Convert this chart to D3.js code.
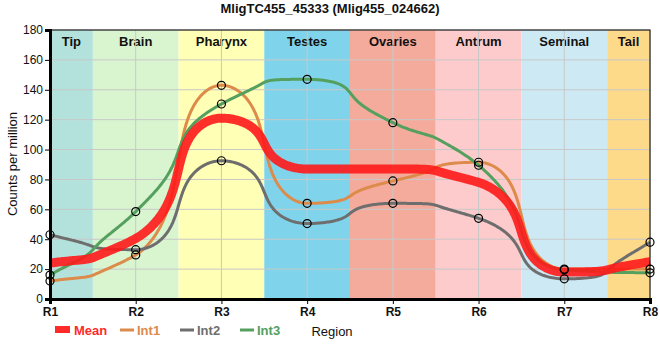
<!DOCTYPE html>
<html><head><meta charset="utf-8">
<script src="https://cdn.jsdelivr.net/npm/d3@7"></script>
<style>body{margin:0;background:#fff;font-family:"Liberation Sans",Arial,sans-serif;}</style>
</head><body><svg id="c" width="660" height="360"></svg>
<script>
const categories = ["R1","R2","R3","R4","R5","R6","R7","R8"];
const regions = ["Tip","Brain","Pharynx","Testes","Ovaries","Antrum","Seminal","Tail"];
const regionColors = ["#b3e2dd","#d8f5d0","#ffffb5","#7fd4eb","#f4ab9c","#fdcbcb","#cdeaf4","#fdd98a"];
const mean = [24, 40.5, 121, 87, 87, 78, 18, 25];
const int1 = [12, 29.5, 143, 64, 79, 91.5, 20, 20];
const int2 = [43, 33, 92.5, 50.5, 64, 54, 13.5, 38];
const int3 = [16, 58.5, 130.5, 147, 118, 89.5, 19.5, 17.5];
const yTicks = [0,20,40,60,80,100,120,140,160,180];

const svg = d3.select("#c");
const L=50,R=650,T=30,B=299;
const x = d3.scaleLinear().domain([0,categories.length-1]).range([L,R]);
const y = d3.scaleLinear().domain([0,180]).range([B,T]);

// bands
regions.forEach((r,i)=>{
  const x0 = x(Math.max(0,i-0.5)), x1 = x(Math.min(categories.length-1,i+0.5));
  svg.append("rect").attr("x",x0).attr("y",T).attr("width",x1-x0).attr("height",B-T).attr("fill",regionColors[i]);
  svg.append("text").attr("x",(x0+x1)/2).attr("y",T+16).attr("text-anchor","middle")
    .attr("font-size",13).attr("font-weight","bold").attr("fill","#111").text(r);
});
// grid
const g = svg.append("g");
yTicks.forEach(t=>g.append("line").attr("x1",L).attr("x2",R).attr("y1",y(t)).attr("y2",y(t)).attr("stroke","#c8c8c8").attr("stroke-width",1));
categories.forEach((c,i)=>g.append("line").attr("x1",x(i)).attr("x2",x(i)).attr("y1",T).attr("y2",B).attr("stroke","#c8c8c8").attr("stroke-width",1));

// smooth curve: monotone Hermite in index space, with spacing stretched around each region centre
const A = 0.55;
const warp = u => u + A*Math.sin(2*Math.PI*u)/(2*Math.PI);
function tangents(v){
  const n=v.length, m=new Array(n).fill(0);
  for(let i=1;i<n-1;i++){
    const s0=v[i]-v[i-1], s1=v[i+1]-v[i], p=(s0+s1)/2;
    m[i]=(Math.sign(s0)+Math.sign(s1))*Math.min(Math.abs(s0),Math.abs(s1),0.5*Math.abs(p))||0;
  }
  m[0]=(3*(v[1]-v[0])-m[1])/2;
  m[n-1]=(3*(v[n-1]-v[n-2])-m[n-2])/2;
  return m.map((t,i)=>{
    let cap;
    if(i===0) cap=3*Math.abs(v[1]-v[0]);
    else if(i===n-1) cap=3*Math.abs(v[n-1]-v[n-2]);
    else cap=3*Math.min(Math.abs(v[i]-v[i-1]),Math.abs(v[i+1]-v[i]));
    const s=t*(1+A);
    return Math.sign(s)*Math.min(Math.abs(s),cap);
  });
}
function smoothPath(v){
  const m=tangents(v), pts=[], K=80;
  for(let i=0;i<v.length-1;i++){
    for(let k=(i?1:0);k<=K;k++){
      const t=k/K, t2=t*t, t3=t2*t;
      const val=(2*t3-3*t2+1)*v[i]+(t3-2*t2+t)*m[i]+(-2*t3+3*t2)*v[i+1]+(t3-t2)*m[i+1];
      pts.push([x(warp(i+t)), y(val)]);
    }
  }
  return d3.line()(pts);
}
const series = [
  {name:"Int1", data:int1, color:"#dd8b4b", w:3},
  {name:"Int2", data:int2, color:"#6e6e6e", w:3},
  {name:"Int3", data:int3, color:"#55a05f", w:3},
];
series.forEach(s=>{
  svg.append("path").attr("d",smoothPath(s.data)).attr("fill","none").attr("stroke",s.color).attr("stroke-width",s.w).attr("stroke-linejoin","round");
});
svg.append("path").attr("d",smoothPath(mean)).attr("fill","none").attr("stroke","#ff1a1a").attr("stroke-opacity",0.9).attr("stroke-width",9).attr("stroke-linejoin","round");
series.forEach(s=>{
  svg.append("g").selectAll("circle").data(s.data).join("circle")
    .attr("cx",(d,i)=>x(i)).attr("cy",d=>y(d)).attr("r",4).attr("fill","none").attr("stroke","#000").attr("stroke-width",1.2);
});

// frame
svg.append("rect").attr("x",L).attr("y",T).attr("width",R-L).attr("height",B-T).attr("fill","none").attr("stroke","#000").attr("stroke-width",1);
// axes
const ya = svg.append("g").attr("transform",`translate(${L},0)`).call(d3.axisLeft(y).tickValues(yTicks).tickSize(5).tickPadding(2));
ya.select(".domain").attr("stroke-width",3);
ya.selectAll("text").attr("font-size",12).attr("font-family","Liberation Sans, Arial").attr("fill","#111");
const xa = svg.append("g").attr("transform",`translate(0,${B})`).call(d3.axisBottom(x).tickValues(d3.range(categories.length)).tickFormat(i=>categories[i]).tickSize(5).tickPadding(3));
xa.select(".domain").attr("stroke-width",3);
xa.selectAll("text").attr("font-size",12).attr("font-weight","bold").attr("font-family","Liberation Sans, Arial").attr("fill","#111");

// title
svg.append("text").attr("x",330).attr("y",13).attr("text-anchor","middle").attr("font-size",13).attr("font-weight","bold").attr("fill","#111").text("MligTC455_45333 (Mlig455_024662)");
svg.append("text").attr("transform","translate(17,164) rotate(-90)").attr("text-anchor","middle").attr("font-size",13).attr("fill","#111").text("Counts per million");
svg.append("text").attr("x",332).attr("y",336).attr("text-anchor","middle").attr("font-size",13).attr("fill","#111").text("Region");

// legend
const leg = [{name:"Mean",color:"#ff2a2a",rect:true},{name:"Int1",color:"#dd8b4b"},{name:"Int2",color:"#6e6e6e"},{name:"Int3",color:"#55a05f"}];
const lx = [55,120,180,240];
leg.forEach((l,i)=>{
  if(l.rect) svg.append("rect").attr("x",lx[i]).attr("y",326).attr("width",15).attr("height",7).attr("fill",l.color);
  else svg.append("line").attr("x1",lx[i]).attr("x2",lx[i]+14).attr("y1",330).attr("y2",330).attr("stroke",l.color).attr("stroke-width",3);
  svg.append("text").attr("x",lx[i]+(l.rect?19:17)).attr("y",335).attr("font-size",13).attr("font-weight","bold").attr("fill",l.color).text(l.name);
});
</script></body></html>
